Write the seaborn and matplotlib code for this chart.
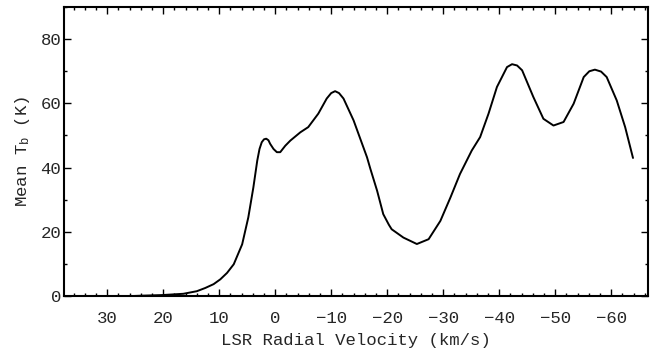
import matplotlib
matplotlib.use("Agg")
import matplotlib.pyplot as plt
from matplotlib.ticker import MultipleLocator
import seaborn as sns
import pandas as pd

velocity = [34.8, 32.5, 30.7, 27.0, 24.0, 20.2, 16.4, 14.0, 12.5, 11.0, 9.8, 8.6, 7.4, 5.9, 4.8,
            3.9, 3.2, 2.8, 2.4, 2.0, 1.6, 1.2, 0.9, 0.3, -0.3, -0.9, -1.8, -2.7, -4.5,
            -5.9, -7.7, -9.2, -10.0, -10.7, -11.4, -12.2, -14.0, -16.4, -17.0, -18.2,
            -19.3, -20.3, -20.8, -22.9, -25.3, -27.4, -29.5, -31.3, -33.0, -35.1, -36.6, -38.1,
            -39.6, -41.4, -42.3, -43.2, -44.1, -46.1, -47.9, -49.7, -51.5, -53.3, -55.1,
            -56.1, -57.1, -58.2, -59.2, -61.0, -62.5, -63.9]
mean_tb = [-0.5, -0.4, -0.3, -0.1, 0.1, 0.3, 0.7, 1.5, 2.5, 3.7, 5.2, 7.2, 9.9, 16.1, 24.5,
           33.8, 42.2, 45.8, 47.9, 48.8, 49.0, 48.5, 47.4, 45.8, 44.8, 44.8, 46.8, 48.4, 51.0,
           52.6, 56.8, 61.5, 63.2, 63.8, 63.2, 61.5, 54.7, 43.2, 39.6, 32.8,
           25.5, 22.2, 20.8, 18.2, 16.2, 17.7, 23.4, 30.7, 38.0, 45.3, 49.5, 56.8,
           65.1, 71.3, 72.2, 71.8, 70.3, 62.0, 55.2, 53.1, 54.2, 59.9, 68.2,
           70.0, 70.5, 69.9, 68.2, 60.9, 52.6, 43.0]
x_ticks = [30, 20, 10, 0, -10, -20, -30, -40, -50, -60]
y_ticks = [0, 20, 40, 60, 80]

df = pd.DataFrame({"v": velocity, "tb": mean_tb})

sns.set_style("ticks")
plt.rcParams["font.family"] = ["Liberation Mono", "DejaVu Sans Mono"]
plt.rcParams["mathtext.fontset"] = "custom"
plt.rcParams["mathtext.rm"] = "Liberation Mono"
plt.rcParams["mathtext.it"] = "Liberation Mono"

fig = plt.figure(figsize=(6.54, 3.52), dpi=100)
ax = fig.add_axes([0.098, 0.159, 0.893, 0.821])
sns.lineplot(data=df, x="v", y="tb", sort=False, color="black", linewidth=1.4, ax=ax)

ax.set_xlim(37.7, -66.6)
ax.set_ylim(0, 90)
ax.set_xticks(x_ticks)
ax.set_xticklabels(["\u2212" + str(-t) if t < 0 else str(t) for t in x_ticks])
ax.set_yticks(y_ticks)
ax.xaxis.set_minor_locator(MultipleLocator(2))
ax.yaxis.set_minor_locator(MultipleLocator(10))
ax.tick_params(which="both", direction="in", top=True, right=True, labelsize=12.5, width=1.0, color="black")
ax.tick_params(which="major", length=5)
ax.tick_params(which="minor", length=2.5)
ax.tick_params(axis="x", which="major", pad=11)
ax.tick_params(axis="y", which="major", pad=2)
for s in ax.spines.values():
    s.set_linewidth(1.5)
    s.set_color("black")
ax.set_xlabel("LSR Radial Velocity (km/s)", fontsize=12.5, labelpad=5)
ax.set_ylabel("Mean T$_{\\rm b}$ (K)", fontsize=12.5, labelpad=6)

fig.savefig("out.png", dpi=100)
